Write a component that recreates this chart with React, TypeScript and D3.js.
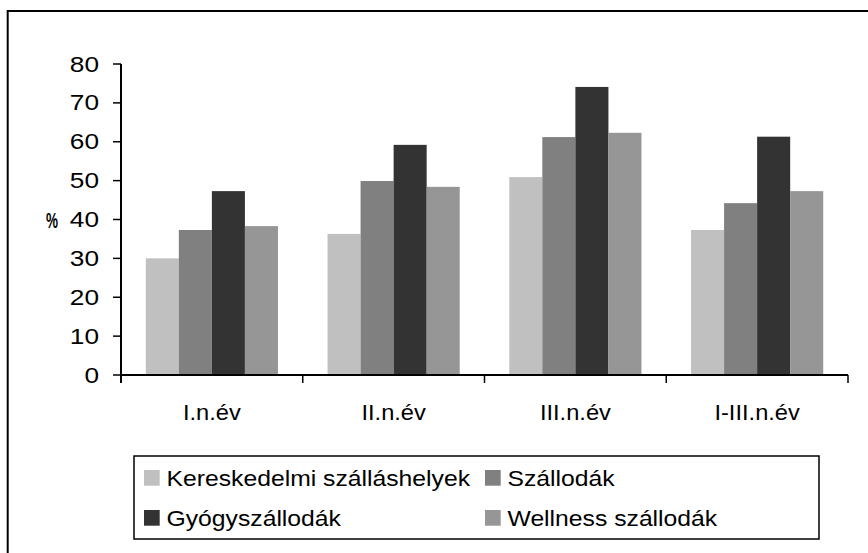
import React from "react";
import * as d3 from "d3";

const categories = ["I.n.év", "II.n.év", "III.n.év", "I-III.n.év"];
const seriesNames = ["Kereskedelmi szálláshelyek", "Szállodák", "Gyógyszállodák", "Wellness szállodák"];
const kereskedelmi = [30.0, 36.3, 50.9, 37.3];
const szallodak = [37.3, 49.9, 61.2, 44.2];
const gyogyszallodak = [47.3, 59.2, 74.1, 61.3];
const wellness = [38.3, 48.4, 62.3, 47.3];
const seriesColors = ["#c0c0c0", "#808080", "#333333", "#969696"];
const yTicks = [0, 10, 20, 30, 40, 50, 60, 70, 80];

const seriesValues = [kereskedelmi, szallodak, gyogyszallodak, wellness];

const FONT = "'Liberation Sans', Arial, sans-serif";

export default function App() {
  const W = 868, H = 553;
  const x = d3.scaleBand<string>().domain(categories).range([121, 848]).paddingInner(0).paddingOuter(0);
  const x1 = d3.scaleBand<string>().domain(seriesNames).range([0, x.bandwidth()]).paddingInner(0).paddingOuter(0.75);
  const y = d3.scaleLinear().domain([0, 80]).range([375, 64]);

  const tickSx = 1.22;
  const labelSx = 1.1;
  const legendSx = 1.15;
  const fs = 21.5;

  const legendCols = [144, 485];
  const legendRows = [470, 510];
  const sw = 15.7;

  return (
    <svg width={W} height={H} style={{ position: "absolute", left: 0, top: 0 }} fontFamily={FONT}>
      <rect x={0} y={0} width={W} height={H} fill="#fff" />
      <rect x={7.7} y={11} width={950} height={650} fill="none" stroke="#000" strokeWidth={2} />

      {/* bars */}
      {categories.map((c, ci) => (
        <g key={c}>
          {seriesNames.map((s, si) => {
            const v = seriesValues[si][ci];
            const bx = (x(c) as number) + (x1(s) as number);
            return (
              <rect key={s} x={bx} y={y(v)} width={x1.bandwidth()} height={y(0) - y(v)} fill={seriesColors[si]} />
            );
          })}
        </g>
      ))}

      {/* y axis */}
      <line x1={121} x2={121} y1={y(80)} y2={383} stroke="#000" strokeWidth={2} />
      {yTicks.map((t) => (
        <g key={t}>
          <line x1={113} x2={121} y1={y(t)} y2={y(t)} stroke="#000" strokeWidth={1.5} />
          <text transform={`translate(99,${y(t) + 7.5}) scale(${tickSx},1)`} textAnchor="end" fontSize={fs} fill="#000">
            {t}
          </text>
        </g>
      ))}
      <text
        x={46}
        y={y(40) + 8}
        fontSize={22}
        fontWeight="bold"
        fill="#000"
        textLength={12}
        lengthAdjust="spacingAndGlyphs"
      >
        %
      </text>

      {/* x axis */}
      <line x1={121} x2={848} y1={y(0)} y2={y(0)} stroke="#000" strokeWidth={2} />
      {[...categories.map((c) => x(c) as number), 848].map((tx, i) => (
        <line key={i} x1={tx} x2={tx} y1={y(0)} y2={383} stroke="#000" strokeWidth={1.5} />
      ))}
      {categories.map((c) => (
        <text
          key={c}
          transform={`translate(${(x(c) as number) + x.bandwidth() / 2},420) scale(${labelSx},1)`}
          textAnchor="middle"
          fontSize={fs}
          fill="#000"
        >
          {c}
        </text>
      ))}

      {/* legend */}
      <rect x={134} y={456} width={685} height={83} fill="#fff" stroke="#000" strokeWidth={1.5} />
      {seriesNames.map((s, i) => {
        const col = i % 2;
        const row = Math.floor(i / 2);
        const lx = legendCols[col];
        const ly = legendRows[row];
        return (
          <g key={s}>
            <rect x={lx} y={ly} width={sw} height={sw} fill={seriesColors[i]} />
            <text transform={`translate(${lx + 22.5},${ly + sw}) scale(${legendSx},1)`} fontSize={fs} fill="#000">
              {s}
            </text>
          </g>
        );
      })}
    </svg>
  );
}
